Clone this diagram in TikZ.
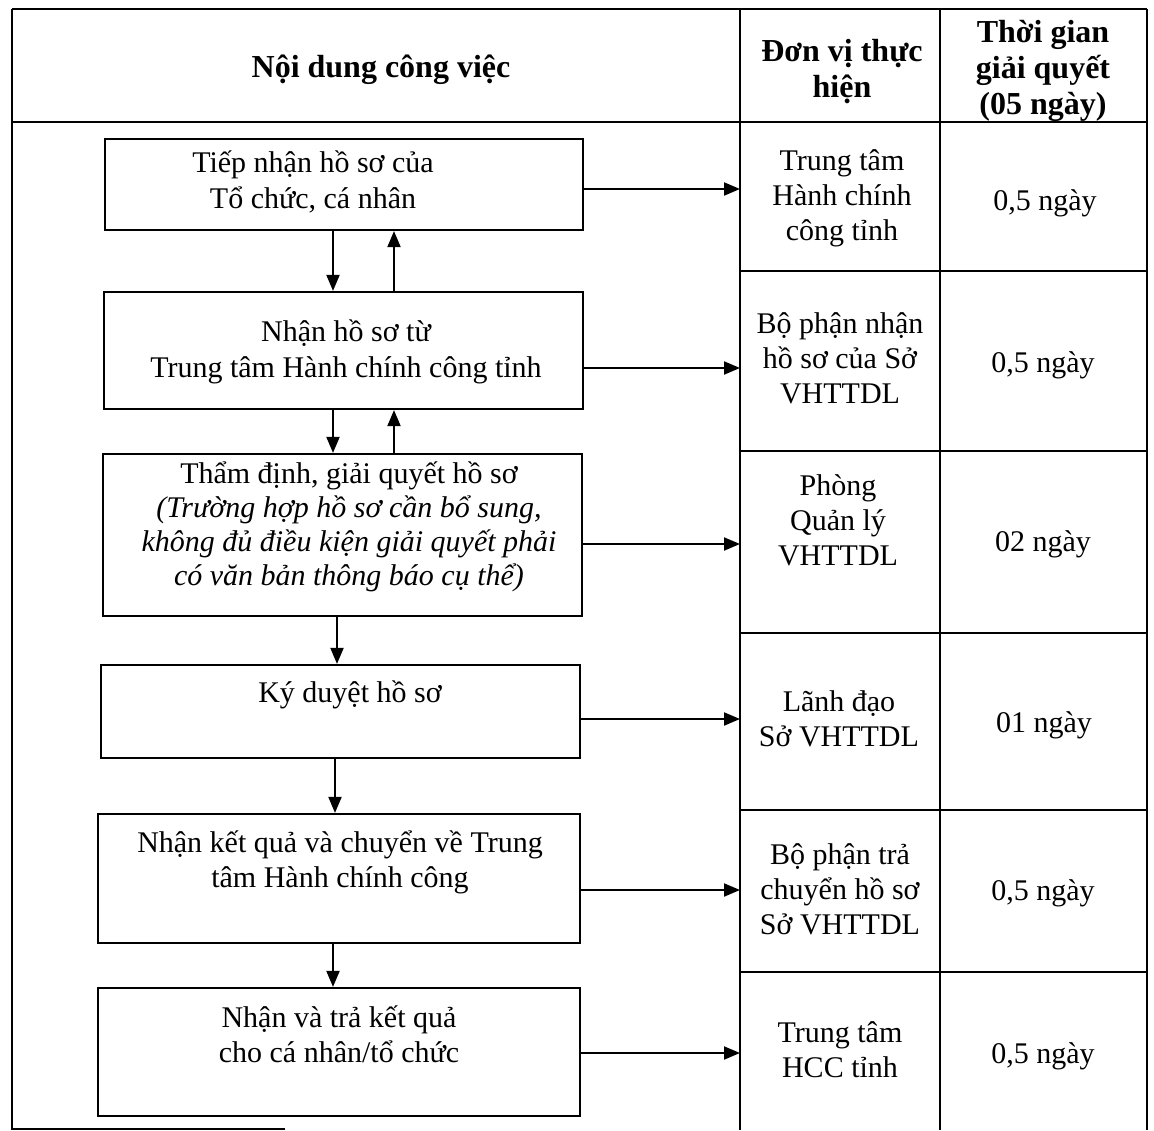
\documentclass[tikz,border=0pt]{standalone}
\usepackage{fontspec}
\setmainfont{Liberation Serif}
\usetikzlibrary{arrows.meta}
\begin{document}
\begin{tikzpicture}[x=1pt,y=-1pt,
  tline/.style={line width=1.6pt},
  box/.style={draw, line width=2.2pt, inner sep=0pt},
  arr/.style={line width=2pt, -{Triangle[length=16pt,width=13pt]}},
  txt/.style={align=center, inner sep=0pt, font=\fontsize{30}{36}\selectfont,
    execute at begin node=\strut, execute at end node=\strut},
  rtxt/.style={txt, font=\fontsize{30}{35}\selectfont},
  itxt/.style={txt, font=\fontsize{30}{34}\selectfont},
  hd/.style={align=center, inner sep=0pt, font=\bfseries\fontsize{32}{36}\selectfont,
    execute at begin node=\strut, execute at end node=\strut}]
\useasboundingbox (0,0) rectangle (1154,1130);

% table frame
\draw[tline] (12,9) -- (1147,9);
\draw[tline] (12,122) -- (1147,122);
\draw[tline] (12,9) -- (12,1129) -- (285,1129);
\draw[tline] (740,9) -- (740,1130);
\draw[tline] (940,9) -- (940,1130);
\draw[tline] (1147,9) -- (1147,1130);
\foreach \yy in {271,451,633,810,972} \draw[tline] (740,\yy) -- (1147,\yy);

% headers
\node[hd] (h1) at (381,70) {Nội dung công việc};
\node[hd] (h2) at (842,74) {Đơn vị thực\\hiện};
\node[hd] (h3) at (1043,73) {Thời gian\\giải quyết\\(05 ngày)};

% boxes
\node[box, minimum width=478pt, minimum height=91pt] (b1) at (344,184.5) {};
\node[box, minimum width=479pt, minimum height=117pt] (b2) at (343.5,350.5) {};
\node[box, minimum width=479pt, minimum height=162pt] (b3) at (342.5,535) {};
\node[box, minimum width=479pt, minimum height=93pt] (b4) at (340.5,711.5) {};
\node[box, minimum width=482pt, minimum height=129pt] (b5) at (339,878.5) {};
\node[box, minimum width=482pt, minimum height=128pt] (b6) at (339,1052) {};

% box texts
\node[txt] (t1) at (313,185) {Tiếp nhận hồ sơ của\\Tổ chức, cá nhân};
\node[txt] (t2) at (346,354) {Nhận hồ sơ từ\\Trung tâm Hành chính công tỉnh};
\node[itxt] (t3) at (349,529) {Thẩm định, giải quyết hồ sơ\\\textit{(Trường hợp hồ sơ cần bổ sung,}\\\textit{không đủ điều kiện giải quyết phải}\\\textit{có văn bản thông báo cụ thể)}};
\node[txt] (t4) at (350,695) {Ký duyệt hồ sơ};
\node[rtxt] (t5) at (340,864) {Nhận kết quả và chuyển về Trung\\tâm Hành chính công};
\node[rtxt] (t6) at (339,1039) {Nhận và trả kết quả\\cho cá nhân/tổ chức};

% unit column
\node[rtxt] (u1) at (842,200) {Trung tâm\\Hành chính\\công tỉnh};
\node[rtxt] (u2) at (840,363) {Bộ phận nhận\\hồ sơ của Sở\\VHTTDL};
\node[rtxt] (u3) at (838,525) {Phòng\\Quản lý\\VHTTDL};
\node[rtxt] (u4) at (839,724) {Lãnh đạo\\Sở VHTTDL};
\node[rtxt] (u5) at (840,894) {Bộ phận trả\\chuyển hồ sơ\\Sở VHTTDL};
\node[rtxt] (u6) at (840,1055) {Trung tâm\\HCC tỉnh};

% time column
\node[txt] (d1) at (1045,203) {0,5 ngày};
\node[txt] (d2) at (1043,365) {0,5 ngày};
\node[txt] (d3) at (1043,544) {02 ngày};
\node[txt] (d4) at (1044,725) {01 ngày};
\node[txt] (d5) at (1043,893) {0,5 ngày};
\node[txt] (d6) at (1043,1056) {0,5 ngày};

% horizontal arrows
\coordinate (c1) at (740,189);
\coordinate (c2) at (740,368);
\coordinate (c3) at (740,544);
\coordinate (c4) at (740,719);
\coordinate (c5) at (740,890);
\coordinate (c6) at (740,1053);
\draw[arr] (b1.east |- c1) -- (c1);
\draw[arr] (b2.east |- c2) -- (c2);
\draw[arr] (b3.east |- c3) -- (c3);
\draw[arr] (b4.east |- c4) -- (c4);
\draw[arr] (b5.east |- c5) -- (c5);
\draw[arr] (b6.east |- c6) -- (c6);

% vertical arrows
\coordinate (vd) at (333,0);
\coordinate (vu) at (394,0);
\coordinate (v3) at (337,0);
\coordinate (v4) at (335,0);
\coordinate (v5) at (333,0);
\draw[arr] (vd |- b1.south) -- (vd |- b2.north);
\draw[arr] (vu |- b2.north) -- (vu |- b1.south);
\draw[arr] (vd |- b2.south) -- (vd |- b3.north);
\draw[arr] (vu |- b3.north) -- (vu |- b2.south);
\draw[arr] (v3 |- b3.south) -- (v3 |- b4.north);
\draw[arr] (v4 |- b4.south) -- (v4 |- b5.north);
\draw[arr] (v5 |- b5.south) -- (v5 |- b6.north);
\end{tikzpicture}
\end{document}
